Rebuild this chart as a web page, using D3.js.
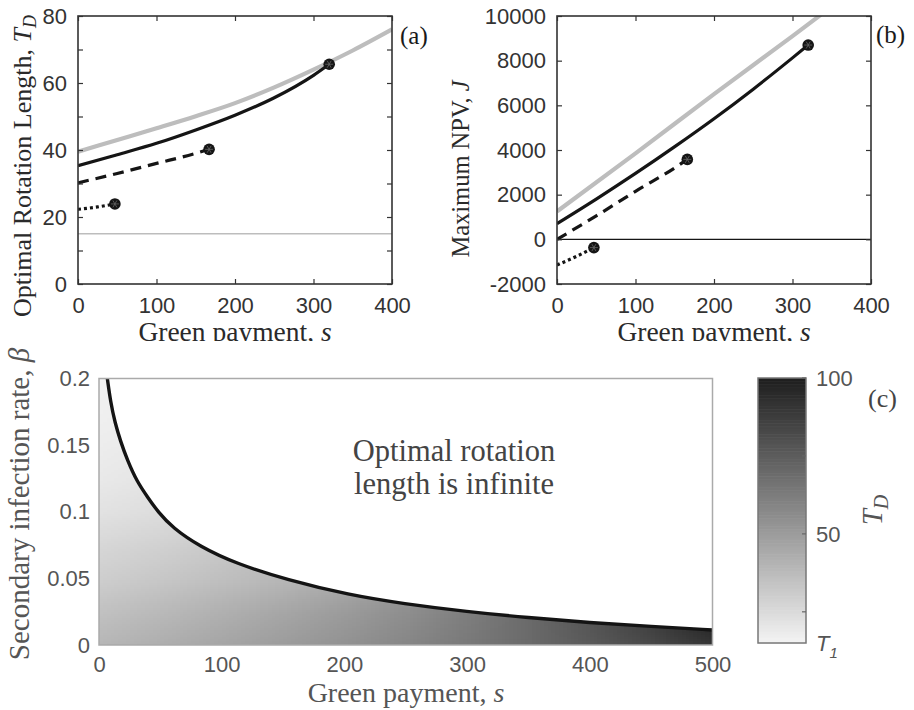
<!DOCTYPE html>
<html><head><meta charset="utf-8">
<script src="https://cdn.jsdelivr.net/npm/d3@7"></script>
<style>body{margin:0;background:#fff}</style>
</head><body>
<svg id="chart" width="914" height="710" xmlns="http://www.w3.org/2000/svg"></svg>
<script>
// ---------------- Panel (a): optimal rotation length ----------------
const aGrayS  = [0, 50, 100, 150, 200, 250, 300, 350, 400];
const aGrayT  = [39.5, 43.0, 46.5, 50.1, 54.0, 58.7, 64.0, 69.7, 76.0];
const aSolidS = [0, 50, 100, 150, 200, 250, 300, 320];
const aSolidT = [35.3, 38.6, 42.0, 46.0, 50.4, 55.6, 62.3, 65.6];
const aDashS  = [0, 50, 100, 150, 167];
const aDashT  = [30.2, 33.0, 36.0, 39.0, 40.2];
const aDotS   = [0, 25, 47];
const aDotT   = [22.3, 23.0, 23.9];
const aT1     = 15;
const aXTicks = [0, 100, 200, 300, 400];
const aYTicks = [0, 10, 20, 30, 40, 50, 60, 70, 80];

// ---------------- Panel (b): maximum NPV ----------------
const bGrayS  = [0, 100, 200, 300, 336];
const bGrayJ  = [1250, 3850, 6500, 9100, 10050];
const bSolidS = [0, 50, 100, 150, 200, 250, 300, 320];
const bSolidJ = [700, 1800, 2950, 4150, 5400, 6725, 8125, 8700];
const bDashS  = [0, 50, 100, 150, 166];
const bDashJ  = [0, 1050, 2150, 3200, 3580];
const bDotS   = [0, 25, 47];
const bDotJ   = [-1150, -760, -370];
const bXTicks = [0, 100, 200, 300, 400];
const bYTicks = [-2000, 0, 2000, 4000, 6000, 8000, 10000];

// ---------------- Panel (c): T_D over (s, beta) ----------------
const cS    = [0, 50, 100, 150, 200, 250, 300, 350, 400, 450, 500];
const cBeta = [0, 0.025, 0.05, 0.075, 0.1, 0.125, 0.15, 0.175, 0.2];
const cT_b000 = [39.5, 43.0, 46.5, 50.1, 54.0, 58.6, 63.9, 69.7, 76.0, 83.0, 91.0];
const cT_b025 = [35.3, 38.6, 42.0, 46.0, 50.4, 55.6, 62.0, 70.0, 79.0, 89.0, 100];
const cT_b050 = [30.2, 33.0, 36.0, 39.2, 43.5, 49.0, 56.0, 64.0, 73.0, 83.0, 94.0];
const cT_b075 = [26.5, 29.0, 32.0, 35.5, 39.5, 44.5, 50.5, 57.5, 65.5, 74.5, 84.5];
const cT_b100 = [22.3, 24.2, 27.0, 30.5, 34.5, 39.5, 45.0, 52.0, 60.0, 69.0, 79.0];
const cT_b125 = [19.5, 21.3, 24.0, 27.5, 31.5, 36.5, 42.0, 49.0, 57.0, 66.0, 76.0];
const cT_b150 = [17.8, 19.5, 22.0, 25.5, 29.5, 34.5, 40.0, 47.0, 55.0, 64.0, 74.0];
const cT_b175 = [16.6, 18.3, 20.8, 24.0, 28.0, 33.0, 38.5, 45.5, 53.5, 62.5, 72.5];
const cT_b200 = [15.7, 17.3, 19.8, 23.0, 27.0, 32.0, 37.5, 44.5, 52.5, 61.5, 71.5];
const cBoundS = [6.8, 9.5, 13, 17.5, 23, 31, 40, 48, 60, 82, 112, 153, 204, 248, 300, 350, 400, 450, 500];
const cBoundB = [0.2, 0.182, 0.167, 0.153, 0.139, 0.1225, 0.1105, 0.1, 0.088, 0.074, 0.061, 0.049, 0.0375, 0.031, 0.025, 0.0205, 0.0168, 0.0139, 0.0113];
const cXTicks = [0, 100, 200, 300, 400, 500];
const cYTicks = [0, 0.05, 0.1, 0.15, 0.2];
const cbTicks = [25, 50, 75, 100];
const cbLabels = [[15, "T1"], [50, "50"], [100, "100"]];
const cTmin = 15, cTmax = 100;

// =====================================================================
const svg = d3.select("#chart");
const defs = svg.append("defs");
const SANS = "'Liberation Sans', Arial, sans-serif";
const SERIF = "'Liberation Serif', 'Times New Roman', serif";

function zip(a, b) { return a.map((v, i) => [v, b[i]]); }

function styleAxis(g, color, size) {
  g.select(".domain").remove();
  g.selectAll(".tick line").attr("stroke", color).attr("stroke-width", 1.2);
  g.selectAll(".tick text").attr("font-family", SANS).attr("font-size", size).attr("fill", color);
}

function boxAxes(P, x, y, xt, yt, yFmt, pad) {
  const g = svg.append("g");
  const gx = g.append("g").attr("transform", `translate(0,${P.y1})`)
    .call(d3.axisBottom(x).tickValues(xt).tickSizeInner(-5).tickSizeOuter(0).tickPadding(13));
  styleAxis(gx, "#333", 22);
  g.append("g").attr("transform", `translate(0,${P.y0})`)
    .call(d3.axisTop(x).tickValues(xt).tickSizeInner(-5).tickSizeOuter(0).tickFormat(""))
    .call(a => styleAxis(a, "#333", 22));
  const gy = g.append("g").attr("transform", `translate(${P.x0},0)`)
    .call(d3.axisLeft(y).tickValues(yt).tickSizeInner(-5).tickSizeOuter(0).tickPadding(pad).tickFormat(yFmt));
  styleAxis(gy, "#333", 22);
  g.append("g").attr("transform", `translate(${P.x1},0)`)
    .call(d3.axisRight(y).tickValues(yt).tickSizeInner(-5).tickSizeOuter(0).tickFormat(""))
    .call(a => styleAxis(a, "#333", 22));
  g.append("rect").attr("x", P.x0).attr("y", P.y0).attr("width", P.x1 - P.x0).attr("height", P.y1 - P.y0)
    .attr("fill", "none").attr("stroke", "#333").attr("stroke-width", 1.6);
}

function endMarker(g, px, py) {
  g.append("circle").attr("cx", px).attr("cy", py).attr("r", 5.8).attr("fill", "#151515");
  const r = 4;
  [0, 60, 120].forEach(a => {
    const dx = r * Math.cos(a * Math.PI / 180), dy = r * Math.sin(a * Math.PI / 180);
    g.append("line").attr("x1", px - dx).attr("y1", py - dy).attr("x2", px + dx).attr("y2", py + dy)
      .attr("stroke", "#666").attr("stroke-width", 0.8);
  });
}

function linePanel(P, x, y, clipId, series, hline, hColor, hWidth) {
  defs.append("clipPath").attr("id", clipId).append("rect")
    .attr("x", P.x0).attr("y", P.y0).attr("width", P.x1 - P.x0).attr("height", P.y1 - P.y0);
  const g = svg.append("g").attr("clip-path", `url(#${clipId})`);
  g.append("line").attr("x1", P.x0).attr("x2", P.x1).attr("y1", y(hline)).attr("y2", y(hline))
    .attr("stroke", hColor).attr("stroke-width", hWidth);
  const line = d3.line().x(d => x(d[0])).y(d => y(d[1])).curve(d3.curveMonotoneX);
  series.forEach(s => {
    g.append("path").attr("d", line(s.data)).attr("fill", "none")
      .attr("stroke", s.color).attr("stroke-width", s.width)
      .attr("stroke-dasharray", s.dash || null).attr("stroke-linecap", s.cap || "butt");
  });
  const gm = svg.append("g");
  series.filter(s => s.marker).forEach(s => {
    const last = s.data[s.data.length - 1];
    endMarker(gm, x(last[0]), y(last[1]));
  });
}

// ---------------- Panel (a) ----------------
const A = {x0: 78, x1: 392, y0: 16, y1: 284};
const xA = d3.scaleLinear().domain([0, 400]).range([A.x0, A.x1]);
const yA = d3.scaleLinear().domain([0, 80]).range([A.y1, A.y0]);
linePanel(A, xA, yA, "clipA", [
  {data: zip(aGrayS, aGrayT), color: "#bdbdbd", width: 4.2},
  {data: zip(aSolidS, aSolidT), color: "#151515", width: 3.2, marker: true},
  {data: zip(aDashS, aDashT), color: "#151515", width: 3.2, dash: "11,7", marker: true},
  {data: zip(aDotS, aDotT), color: "#151515", width: 3.2, dash: "3,3", marker: true}
], aT1, "#bdbdbd", 1.6);
boxAxes(A, xA, yA, aXTicks, aYTicks, d => d % 20 === 0 ? d : "", 11);

// ---------------- Panel (b) ----------------
const B = {x0: 557, x1: 871, y0: 16, y1: 284};
const xB = d3.scaleLinear().domain([0, 400]).range([B.x0, B.x1]);
const yB = d3.scaleLinear().domain([-2000, 10000]).range([B.y1, B.y0]);
linePanel(B, xB, yB, "clipB", [
  {data: zip(bGrayS, bGrayJ), color: "#bdbdbd", width: 4.2},
  {data: zip(bSolidS, bSolidJ), color: "#151515", width: 3.2, marker: true},
  {data: zip(bDashS, bDashJ), color: "#151515", width: 3.2, dash: "11,7", marker: true},
  {data: zip(bDotS, bDotJ), color: "#151515", width: 3.2, dash: "3,3", marker: true}
], 0, "#151515", 1.4);
boxAxes(B, xB, yB, bXTicks, bYTicks, d => d, 11);

// labels for (a) and (b) (cut at the bottom as in the figure)
defs.append("clipPath").attr("id", "clipTop").append("rect").attr("x", 0).attr("y", 0).attr("width", 914).attr("height", 341);
const lab = svg.append("g").attr("clip-path", "url(#clipTop)")
  .attr("font-family", SERIF).attr("fill", "#2a2a2a");
function greenLabel(g, cx, by, size) {
  const t = g.append("text").attr("x", cx).attr("y", by).attr("text-anchor", "middle").attr("font-size", size);
  t.append("tspan").text("Green payment, ");
  t.append("tspan").attr("font-style", "italic").text("s");
}
greenLabel(lab, (A.x0 + A.x1) / 2, 341, 27.5);
greenLabel(lab, (B.x0 + B.x1) / 2, 341, 27.5);

const yla = svg.append("text").attr("font-family", SERIF).attr("fill", "#2a2a2a").attr("font-size", 26)
  .attr("text-anchor", "middle").attr("transform", "translate(31,166) rotate(-90)");
yla.append("tspan").text("Optimal Rotation Length, ");
yla.append("tspan").attr("font-style", "italic").text("T");
yla.append("tspan").attr("font-style", "italic").attr("font-size", 18).attr("dy", 5).text("D");

const ylb = svg.append("text").attr("font-family", SERIF).attr("fill", "#2a2a2a").attr("font-size", 24.5)
  .attr("text-anchor", "middle").attr("transform", "translate(469,169) rotate(-90)");
ylb.append("tspan").text("Maximum NPV, ");
ylb.append("tspan").attr("font-style", "italic").text("J");

svg.append("text").attr("x", 400).attr("y", 44).attr("font-family", SERIF).attr("font-size", 25).attr("fill", "#1a1a1a").text("(a)");
svg.append("text").attr("x", 876).attr("y", 43).attr("font-family", SERIF).attr("font-size", 25).attr("fill", "#1a1a1a").text("(b)");

// ---------------- Panel (c) ----------------
const C = {x0: 99, x1: 712.5, y0: 378.5, y1: 645};
const xC = d3.scaleLinear().domain([0, 500]).range([C.x0, C.x1]);
const yC = d3.scaleLinear().domain([0, 0.2]).range([C.y1, C.y0]);
const color = d3.scaleLinear().domain([cTmin, cTmax]).range(["#f4f4f4", "#1e1e1e"]).clamp(true);

const rows = [cT_b000, cT_b025, cT_b050, cT_b075, cT_b100, cT_b125, cT_b150, cT_b175, cT_b200];
const cv = document.createElement("canvas");
cv.width = cS.length; cv.height = cBeta.length;
const ctx = cv.getContext("2d");
const im = ctx.createImageData(cv.width, cv.height);
for (let i = 0; i < cBeta.length; i++) {
  const row = rows[cBeta.length - 1 - i];
  for (let j = 0; j < cS.length; j++) {
    const c = d3.rgb(color(row[j]));
    const k = 4 * (i * cv.width + j);
    im.data[k] = c.r; im.data[k + 1] = c.g; im.data[k + 2] = c.b; im.data[k + 3] = 255;
  }
}
ctx.putImageData(im, 0, 0);
const ds = cS[1] - cS[0], db = cBeta[1] - cBeta[0];

const boundPts = zip(cBoundS, cBoundB);
const bl = d3.line().x(d => xC(d[0])).y(d => yC(d[1])).curve(d3.curveBasis);
const clipD = `M${xC(0)},${yC(0.2)}L` + bl(boundPts).slice(1) + `L${xC(500)},${yC(0)}L${xC(0)},${yC(0)}Z`;
defs.append("clipPath").attr("id", "clipHeat").append("path").attr("d", clipD);

svg.append("image")
  .attr("href", cv.toDataURL())
  .attr("x", xC(cS[0] - ds / 2)).attr("y", yC(cBeta[cBeta.length - 1] + db / 2))
  .attr("width", xC(cS[cS.length - 1] + ds / 2) - xC(cS[0] - ds / 2))
  .attr("height", yC(cBeta[0] - db / 2) - yC(cBeta[cBeta.length - 1] + db / 2))
  .attr("preserveAspectRatio", "none")
  .attr("clip-path", "url(#clipHeat)");

defs.append("clipPath").attr("id", "clipC").append("rect")
  .attr("x", C.x0).attr("y", C.y0 - 2).attr("width", C.x1 - C.x0).attr("height", C.y1 - C.y0 + 2);
svg.append("path").attr("d", bl(boundPts)).attr("fill", "none").attr("stroke", "#141414")
  .attr("stroke-width", 3.4).attr("clip-path", "url(#clipC)");

const gxc = svg.append("g").attr("transform", `translate(0,${C.y1})`)
  .call(d3.axisBottom(xC).tickValues(cXTicks).tickSizeInner(0).tickSizeOuter(0).tickPadding(11));
styleAxis(gxc, "#555", 22);
const gyc = svg.append("g").attr("transform", `translate(${C.x0},0)`)
  .call(d3.axisLeft(yC).tickValues(cYTicks).tickSizeInner(0).tickSizeOuter(0).tickPadding(9).tickFormat(d => d));
styleAxis(gyc, "#555", 22);
svg.append("rect").attr("x", C.x0).attr("y", C.y0).attr("width", C.x1 - C.x0).attr("height", C.y1 - C.y0)
  .attr("fill", "none").attr("stroke", "#aaa").attr("stroke-width", 1.5);

const txt = svg.append("text").attr("font-family", SERIF).attr("font-size", 30.5).attr("fill", "#444")
  .attr("text-anchor", "middle");
txt.append("tspan").attr("x", 454).attr("y", 461).text("Optimal rotation");
txt.append("tspan").attr("x", 454).attr("y", 494).text("length is infinite");

const xlc = svg.append("text").attr("x", 406).attr("y", 702).attr("text-anchor", "middle")
  .attr("font-family", SERIF).attr("font-size", 28).attr("fill", "#555");
xlc.append("tspan").text("Green payment, ");
xlc.append("tspan").attr("font-style", "italic").text("s");

const ylc = svg.append("text").attr("font-family", SERIF).attr("font-size", 29).attr("fill", "#555")
  .attr("text-anchor", "middle").attr("transform", "translate(29,504) rotate(-90)");
ylc.append("tspan").text("Secondary infection rate, ");
ylc.append("tspan").attr("font-style", "italic").text("β");

// colorbar
const CB = {x0: 758, x1: 806, y0: 378, y1: 643};
const yCB = d3.scaleLinear().domain([cTmin, cTmax]).range([CB.y1, CB.y0]);
const steps = d3.range(cTmin, cTmax, 0.5);
svg.append("g").selectAll("rect").data(steps).join("rect")
  .attr("x", CB.x0).attr("width", CB.x1 - CB.x0)
  .attr("y", d => yCB(d + 0.5)).attr("height", d => yCB(d) - yCB(d + 0.5) + 0.6)
  .attr("fill", d => color(d + 0.25));
svg.append("rect").attr("x", CB.x0).attr("y", CB.y0).attr("width", CB.x1 - CB.x0).attr("height", CB.y1 - CB.y0)
  .attr("fill", "none").attr("stroke", "#777").attr("stroke-width", 1.5);
svg.append("g").selectAll("line").data(cbTicks).join("line")
  .attr("x1", CB.x1 - 4).attr("x2", CB.x1).attr("y1", d => yCB(d)).attr("y2", d => yCB(d))
  .attr("stroke", "#666").attr("stroke-width", 1.2);
cbLabels.forEach(([v, s]) => {
  const t = svg.append("text").attr("x", 816).attr("y", yCB(v)).attr("dy", "0.36em")
    .attr("font-family", SANS).attr("font-size", 22).attr("fill", "#555");
  if (s === "T1") {
    t.append("tspan").attr("font-style", "italic").text("T");
    t.append("tspan").attr("font-style", "italic").attr("font-size", 15).attr("dy", 7).text("1");
  } else t.text(s);
});
const tdl = svg.append("text").attr("font-family", SERIF).attr("font-size", 29).attr("fill", "#555")
  .attr("text-anchor", "middle").attr("transform", "translate(882,510) rotate(-90)");
tdl.append("tspan").attr("font-style", "italic").text("T");
tdl.append("tspan").attr("font-style", "italic").attr("font-size", 20).attr("dy", 6).text("D");
svg.append("text").attr("x", 868).attr("y", 407).attr("font-family", SERIF).attr("font-size", 26)
  .attr("fill", "#444").text("(c)");
</script>
</body></html>
